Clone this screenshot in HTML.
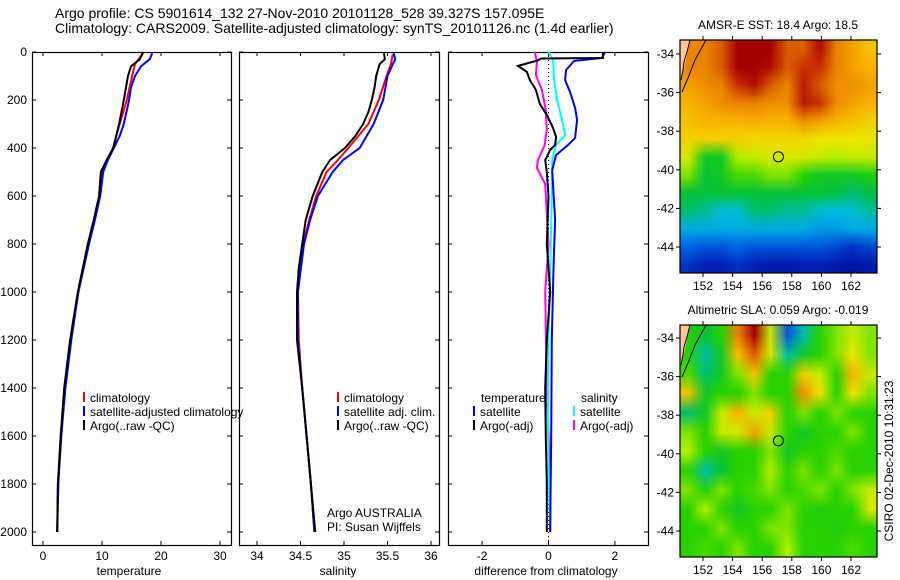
<!DOCTYPE html>
<html><head><meta charset="utf-8"><style>
body{margin:0;background:#fff}
svg{display:block;font-family:"Liberation Sans",sans-serif;font-size:12px}
canvas{position:absolute}
</style></head><body>
<div style="position:relative;width:900px;height:580px">
<canvas id="sst" width="197" height="233" style="left:680px;top:40px"></canvas>
<canvas id="sla" width="197" height="232" style="left:680px;top:325px"></canvas>
<svg id="s" width="900" height="580" style="position:absolute;left:0;top:0"></svg>
</div>
<script>
// ---- data ----
const depthTicks=[0,200,400,600,800,1000,1200,1400,1600,1800,2000];
const tTicks=[0,10,20,30];
const sTicks=[34,34.5,35,35.5,36];
const dTicks=[-2,0,2];
const lonTicks=[152,154,156,158,160,162];
const latTicks=[-34,-36,-38,-40,-42,-44];
const tempArgo=[[0,17.0],[30,16.4],[40,15.9],[60,14.9],[100,14.4],[200,13.7],[300,12.9],[350,12.4],[400,11.9],[450,10.8],[500,9.8],[600,9.5],[700,8.6],[800,7.6],[1000,5.9],[1200,4.6],[1400,3.6],[1600,3.0],[1800,2.5],[2000,2.4]];
const tempClim=[[10,16.8],[50,15.6],[100,15.1],[200,14.2],[300,13.0],[350,12.4],[400,11.9],[450,11.0],[500,10.0],[600,9.6],[700,8.7],[800,7.7],[1000,6.0],[1200,4.7],[1400,3.7],[1600,3.0],[1800,2.6],[2000,2.4]];
const tempSat=[[5,18.5],[30,18.1],[60,16.6],[100,15.6],[150,14.9],[200,14.6],[300,13.7],[350,13.0],[400,12.0],[450,11.0],[500,10.2],[600,9.7],[700,8.8],[800,7.8],[1000,6.0],[1200,4.8],[1400,3.8],[1600,3.1],[1800,2.6],[2000,2.4]];
const salArgo=[[5,35.46],[30,35.47],[50,35.41],[100,35.37],[150,35.35],[200,35.32],[250,35.28],[300,35.22],[350,35.13],[400,35.01],[450,34.84],[500,34.75],[600,34.64],[700,34.56],[800,34.52],[900,34.48],[1000,34.46],[1200,34.46],[1400,34.52],[1600,34.57],[1800,34.62],[2000,34.67]];
const salClim=[[10,35.56],[50,35.54],[100,35.49],[200,35.40],[300,35.28],[400,35.05],[450,34.93],[500,34.80],[600,34.68],[700,34.60],[800,34.53],[1000,34.47],[1200,34.48],[1400,34.52],[1600,34.57],[1800,34.62],[2000,34.66]];
const salSat=[[5,35.57],[30,35.59],[60,35.55],[100,35.50],[200,35.45],[300,35.34],[400,35.18],[450,34.99],[500,34.87],[600,34.70],[700,34.61],[800,34.54],[1000,34.47],[1200,34.47],[1400,34.52],[1600,34.57],[1800,34.62],[2000,34.66]];
const dTempArgo=[[0,1.64],[25,1.64],[27,-0.22],[35,-0.32],[58,-0.92],[83,-0.65],[117,-0.56],[158,-0.38],[217,-0.26],[262,-0.05],[317,0.14],[354,0.23],[387,0.2],[408,0.05],[450,-0.1],[500,-0.05],[600,0],[800,-0.05],[1000,0.05],[1200,-0.05],[1400,-0.1],[1600,-0.08],[1800,-0.05],[2000,-0.05]];
const dTempSat=[[0,1.70],[25,1.61],[37,0.77],[75,0.53],[117,0.5],[167,0.65],[233,0.8],[283,0.86],[358,0.8],[387,0.59],[429,0.23],[492,0.11],[700,0.2],[900,0.15],[1200,0.1],[1600,0.08],[2000,0.05]];
const dSalSat=[[0,0],[33,0.14],[117,0.17],[200,0.26],[283,0.41],[346,0.5],[387,0.23],[450,0.11],[600,0.1],[900,0.05],[1200,0],[1600,-0.02],[2000,0.05]];
const dSalArgo=[[0,-0.41],[42,-0.35],[96,-0.38],[158,-0.2],[242,-0.08],[325,-0.05],[387,-0.11],[450,-0.32],[483,-0.35],[550,-0.1],[800,0],[1000,-0.1],[1400,-0.05],[1800,0.05],[2000,0.05]];
const sstGrid=[
[.8,.8,.85,.97,.97,.97,.85,.85,.95,.8,.75,.7],
[.8,.8,.85,.97,.97,.95,.85,.9,.9,.8,.75,.72],
[.75,.78,.8,.9,.95,.85,.8,.93,.85,.78,.78,.75],
[.72,.75,.78,.8,.8,.78,.78,.93,.9,.78,.75,.72],
[.7,.72,.72,.72,.73,.72,.72,.78,.75,.72,.7,.68],
[.68,.68,.68,.68,.67,.67,.67,.67,.65,.65,.65,.64],
[.62,.45,.45,.58,.6,.62,.62,.62,.6,.58,.6,.6],
[.55,.42,.45,.52,.52,.55,.55,.5,.45,.45,.45,.48],
[.42,.42,.42,.42,.42,.42,.42,.42,.42,.4,.38,.4],
[.38,.36,.33,.33,.38,.38,.36,.36,.33,.32,.33,.36],
[.3,.3,.3,.3,.3,.3,.3,.3,.28,.28,.3,.3],
[.22,.2,.2,.22,.2,.2,.2,.2,.2,.18,.15,.18],
[.15,.12,.12,.15,.12,.1,.1,.12,.12,.1,.08,.1]];
const slaGrid=[
[.5,.42,.5,.8,.97,.6,.2,.35,.5,.55,.6,.55],
[.5,.35,.45,.7,.85,.62,.35,.45,.5,.55,.65,.55],
[.52,.38,.45,.55,.7,.5,.5,.68,.6,.5,.72,.6],
[.7,.45,.5,.5,.55,.5,.5,.78,.65,.5,.65,.55],
[.38,.45,.6,.72,.6,.68,.5,.55,.5,.55,.5,.5],
[.55,.5,.6,.62,.75,.6,.5,.45,.5,.5,.55,.5],
[.58,.5,.45,.5,.5,.55,.45,.5,.5,.52,.5,.5],
[.5,.35,.42,.5,.5,.58,.5,.55,.5,.55,.5,.5],
[.55,.48,.55,.5,.52,.55,.5,.52,.55,.5,.55,.6],
[.5,.58,.5,.45,.5,.5,.55,.5,.48,.5,.5,.62],
[.5,.5,.55,.5,.5,.55,.55,.5,.5,.48,.5,.5],
[.5,.52,.5,.55,.5,.5,.58,.5,.5,.5,.52,.5]];
const argoLon=157.095, argoLat=-39.327;

const S=document.getElementById('s');const NS='http://www.w3.org/2000/svg';
function el(t,a,p){const e=document.createElementNS(NS,t);for(const k in a)e.setAttribute(k,a[k]);(p||S).appendChild(e);return e;}
function txt(x,y,s,anchor,name,extra){const e=el('text',Object.assign({x:x,y:y,'text-anchor':anchor||'start'},extra||{}));e.textContent=s;


return e;}
const yD=d=>52+d*0.24;
function panel(x0,x1,name){const r=el('rect',{x:x0+.5,y:52.5,width:x1-x0,height:493,fill:'none',stroke:'#000','stroke-width':1.2});

}
function xticks(vals,fx,lbl,name){vals.forEach(v=>{const x=fx(v);el('line',{x1:x,x2:x,y1:52,y2:56,stroke:'#000'});el('line',{x1:x,x2:x,y1:545,y2:541,stroke:'#000'});txt(x,560,lbl?lbl(v):String(v),'middle',name+'-tick');});}
function yticks(x0,x1){depthTicks.forEach(d=>{const y=yD(d);el('line',{x1:x0,x2:x0+4,y1:y,y2:y,stroke:'#000'});el('line',{x1:x1,x2:x1-4,y1:y,y2:y,stroke:'#000'});});}
function line(arr,fx,col,name,w){const p=arr.map(a=>fx(a[1]).toFixed(1)+','+yD(a[0]).toFixed(1)).join(' ');const e=el('polyline',{points:p,fill:'none',stroke:col,'stroke-width':w||2});

}
function legend(x,y,col,s,name){el('rect',{x:x,y:y-10,width:2,height:10,fill:col});txt(x+7,y,s,'start',name);}

// titles
txt(55,18,'Argo profile: CS 5901614_132 27-Nov-2010 20101128_528 39.327S 157.095E','start','title-line-1',{'font-size':'14px'});
txt(55,33,'Climatology: CARS2009. Satellite-adjusted climatology: synTS_20101126.nc (1.4d earlier)','start','title-line-2',{'font-size':'14px'});

// panel 1
const fT=v=>43+v*5.9;
panel(32,231,'temperature-panel');yticks(32,231);xticks(tTicks,fT,null,'temperature');
depthTicks.forEach(d=>txt(27,yD(d)+4,String(d),'end','depth-tick'));
line(tempClim,fT,'#f00','temp-climatology-line');line(tempSat,fT,'#00f','temp-satellite-line');line(tempArgo,fT,'#000','temp-argo-line');
txt(129,575,'temperature','middle','x-axis-title-temperature');
legend(83,402,'#f00','climatology','legend-climatology');legend(83,416,'#00f','satellite-adjusted climatology','legend-satellite');legend(83,430,'#000','Argo(..raw -QC)','legend-argo');

// panel 2
const fS=v=>257+(v-34)*87;
panel(239,439,'salinity-panel');yticks(239,439);xticks(sTicks,fS,null,'salinity');
line(salClim,fS,'#f00','sal-climatology-line');line(salSat,fS,'#00f','sal-satellite-line');line(salArgo,fS,'#000','sal-argo-line');
txt(338,575,'salinity','middle','x-axis-title-salinity');
legend(337,402,'#f00','climatology','legend2-climatology');legend(337,416,'#00f','satellite adj. clim.','legend2-satellite');legend(337,430,'#000','Argo(..raw -QC)','legend2-argo');
txt(327,517,'Argo AUSTRALIA','start','institution-label');txt(327,531,'PI: Susan Wijffels','start','pi-label');

// panel 3
const fD=v=>548.5+v*33.2;
panel(448,648,'difference-panel');yticks(448,648);xticks(dTicks,fD,null,'difference');
el('line',{x1:fD(0),x2:fD(0),y1:52,y2:545,stroke:'#000','stroke-dasharray':'1,3'});
line(dSalArgo,fD,'#f0f','diff-sal-argo-line');line(dSalSat,fD,'#0ff','diff-sal-satellite-line');line(dTempSat,fD,'#00f','diff-temp-satellite-line');line(dTempArgo,fD,'#000','diff-temp-argo-line');
txt(546,575,'difference from climatology','middle','x-axis-title-difference');
txt(481,402,'temperature','start','legend3-temperature-header');legend(473,416,'#00f','satellite','legend3-temp-satellite');legend(473,430,'#000','Argo(-adj)','legend3-temp-argo');
txt(581,402,'salinity','start','legend3-salinity-header');legend(573,416,'#0ff','satellite','legend3-sal-satellite');legend(573,430,'#f0f','Argo(-adj)','legend3-sal-argo');

// maps
const stops=[[0,[0,0,128]],[.12,[0,30,180]],[.22,[0,100,230]],[.32,[0,190,230]],[.4,[0,190,70]],[.5,[40,210,0]],[.58,[180,240,0]],[.65,[240,230,0]],[.72,[250,180,0]],[.82,[230,120,0]],[.9,[200,50,0]],[.97,[165,0,0]],[1,[160,0,0]]];
function cmap(v){for(let i=1;i<stops.length;i++){if(v<=stops[i][0]){const a=stops[i-1],b=stops[i],t=(v-a[0])/(b[0]-a[0]);return a[1].map((c,k)=>Math.round(c+(b[1][k]-c)*t));}}return stops[stops.length-1][1];}
function drawMap(id,grid){const c=document.getElementById(id),ctx=c.getContext('2d');const h=grid.length,w=grid[0].length;
const sm=document.createElement('canvas');sm.width=w;sm.height=h;const sc=sm.getContext('2d');const im=sc.createImageData(w,h);
grid.forEach((row,r)=>row.forEach((v,k)=>{const col=cmap(v),i=(r*w+k)*4;im.data[i]=col[0];im.data[i+1]=col[1];im.data[i+2]=col[2];im.data[i+3]=255;}));
sc.putImageData(im,0,0);ctx.imageSmoothingEnabled=true;ctx.drawImage(sm,0,0,c.width,c.height);}
drawMap('sst',sstGrid);drawMap('sla',slaGrid);
function mapFrame(top,bottom,lat34,lat44,title,name){
const fx=l=>703+(l-152)*14.8, fy=l=>lat34+(-34-l)*(lat44-lat34)/10;
el('polygon',{points:`680,${top} 690,${top} 686,${top+20} 682,${top+38} 680,${top+40}`,fill:'#fcc89b'});
el('polyline',{points:`706,${top} 695,${top+20} 688,${top+38} 682,${top+52}`,fill:'none',stroke:'#000'});
el('polyline',{points:`690,${top} 687,${top+12} 684,${top+22} 683,${top+30} 681,${top+40}`,fill:'none',stroke:'#000'});
const r=el('rect',{x:680,y:top,width:197,height:bottom-top,fill:'none',stroke:'#000','stroke-width':1.2});


lonTicks.forEach(l=>{const x=fx(l);el('line',{x1:x,x2:x,y1:top,y2:top-4,stroke:'#000'});el('line',{x1:x,x2:x,y1:bottom,y2:bottom+4,stroke:'#000'});txt(x,bottom+17,String(l),'middle',name+'-lon-tick');});
latTicks.forEach(l=>{const y=fy(l);el('line',{x1:680,x2:676,y1:y,y2:y,stroke:'#000'});el('line',{x1:877,x2:881,y1:y,y2:y,stroke:'#000'});txt(674,y+4,String(l),'end',name+'-lat-tick');});
txt(778,top-11,title,'middle',name+'-title');
const m=el('circle',{cx:fx(argoLon),cy:fy(argoLat),r:5,fill:'none',stroke:'#000'});

}
mapFrame(40,273,54,247,'AMSR-E SST: 18.4  Argo: 18.5','sst-map');
mapFrame(325,557,338,531,'Altimetric SLA: 0.059  Argo: -0.019','sla-map');
txt(0,0,'CSIRO 02-Dec-2010 10:31:23','middle','timestamp-label',{transform:'translate(893,461) rotate(-90)'});
</script>
</body></html>
